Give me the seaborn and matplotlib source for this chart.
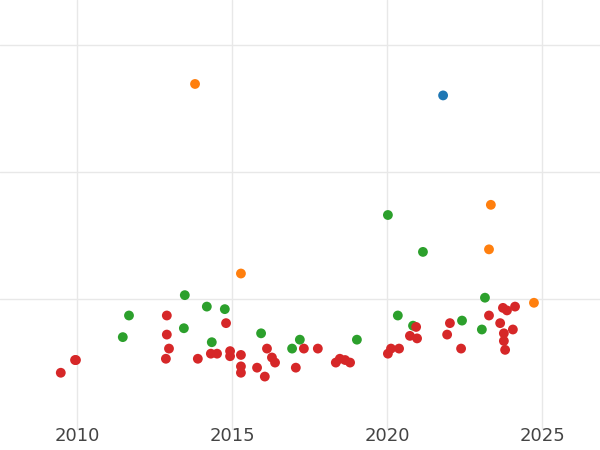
import matplotlib
matplotlib.use("Agg")
import matplotlib.pyplot as plt
import pandas as pd
import seaborn as sns

sns.set_theme(style="whitegrid")

blue_x = [2021.81]
blue_y = [1.60]
orange_x = [2013.81, 2023.35, 2023.29, 2015.29, 2024.74]
orange_y = [1.69, 0.74, 0.39, 0.20, -0.03]
green_x = [2011.68, 2011.48, 2013.48, 2013.45, 2014.19, 2014.77, 2014.35, 2015.94, 2016.94,
           2017.19, 2019.03, 2020.03, 2021.16, 2020.35, 2020.84, 2022.42, 2023.16, 2023.06]
green_y = [-0.13, -0.30, 0.03, -0.23, -0.06, -0.08, -0.34, -0.27, -0.39,
           -0.32, -0.32, 0.66, 0.37, -0.13, -0.21, -0.17, 0.01, -0.24]
red_x = [2009.48, 2009.94, 2009.97, 2012.90, 2012.90, 2012.97, 2012.87, 2013.90, 2014.32,
         2014.52, 2014.81, 2014.94, 2014.94, 2015.29, 2015.29, 2015.29, 2015.81, 2016.06,
         2016.13, 2016.29, 2016.39, 2017.06, 2017.32, 2017.77, 2018.35, 2018.48, 2018.65,
         2018.81, 2020.03, 2020.13, 2020.39, 2020.74, 2020.94, 2020.97, 2021.94, 2022.03,
         2022.39, 2023.29, 2023.65, 2023.74, 2023.77, 2023.77, 2023.81, 2023.87, 2024.06,
         2024.13]
red_y = [-0.58, -0.48, -0.48, -0.13, -0.28, -0.39, -0.47, -0.47, -0.43,
         -0.43, -0.19, -0.41, -0.45, -0.44, -0.53, -0.58, -0.54, -0.61,
         -0.39, -0.46, -0.50, -0.54, -0.39, -0.39, -0.50, -0.47, -0.48,
         -0.50, -0.43, -0.39, -0.39, -0.29, -0.22, -0.31, -0.28, -0.19,
         -0.39, -0.13, -0.19, -0.07, -0.27, -0.33, -0.40, -0.09, -0.24,
         -0.06]

groups = [("blue", blue_x, blue_y), ("orange", orange_x, orange_y),
          ("green", green_x, green_y), ("red", red_x, red_y)]
df = pd.concat([pd.DataFrame({"year": xs, "value": ys, "group": g}) for g, xs, ys in groups])
palette = {"blue": "#1f77b4", "orange": "#ff7f0e", "green": "#2ca02c", "red": "#d62728"}

fig = plt.figure(figsize=(6, 4.5), dpi=100)
ax = fig.add_axes([0, 20 / 450, 1, 430 / 450])
sns.scatterplot(data=df, x="year", y="value", hue="group", palette=palette,
                s=50, edgecolor="none", legend=False, ax=ax)
ax.set_xlim(2007.52, 2026.87)
ax.set_ylim(-1.03, 2.35)
ax.set_xticks([2010, 2015, 2020, 2025])
ax.set_yticks([0, 1, 2])
ax.set_yticklabels([])
ax.tick_params(axis="y", length=0)
ax.tick_params(axis="x", labelsize=13, colors="#444444", length=0, pad=-2)
ax.set_xlabel("")
ax.set_ylabel("")
ax.grid(color="#e8e8e8", linewidth=1)
for s in ax.spines.values():
    s.set_visible(False)
fig.savefig("out.png", dpi=100)
